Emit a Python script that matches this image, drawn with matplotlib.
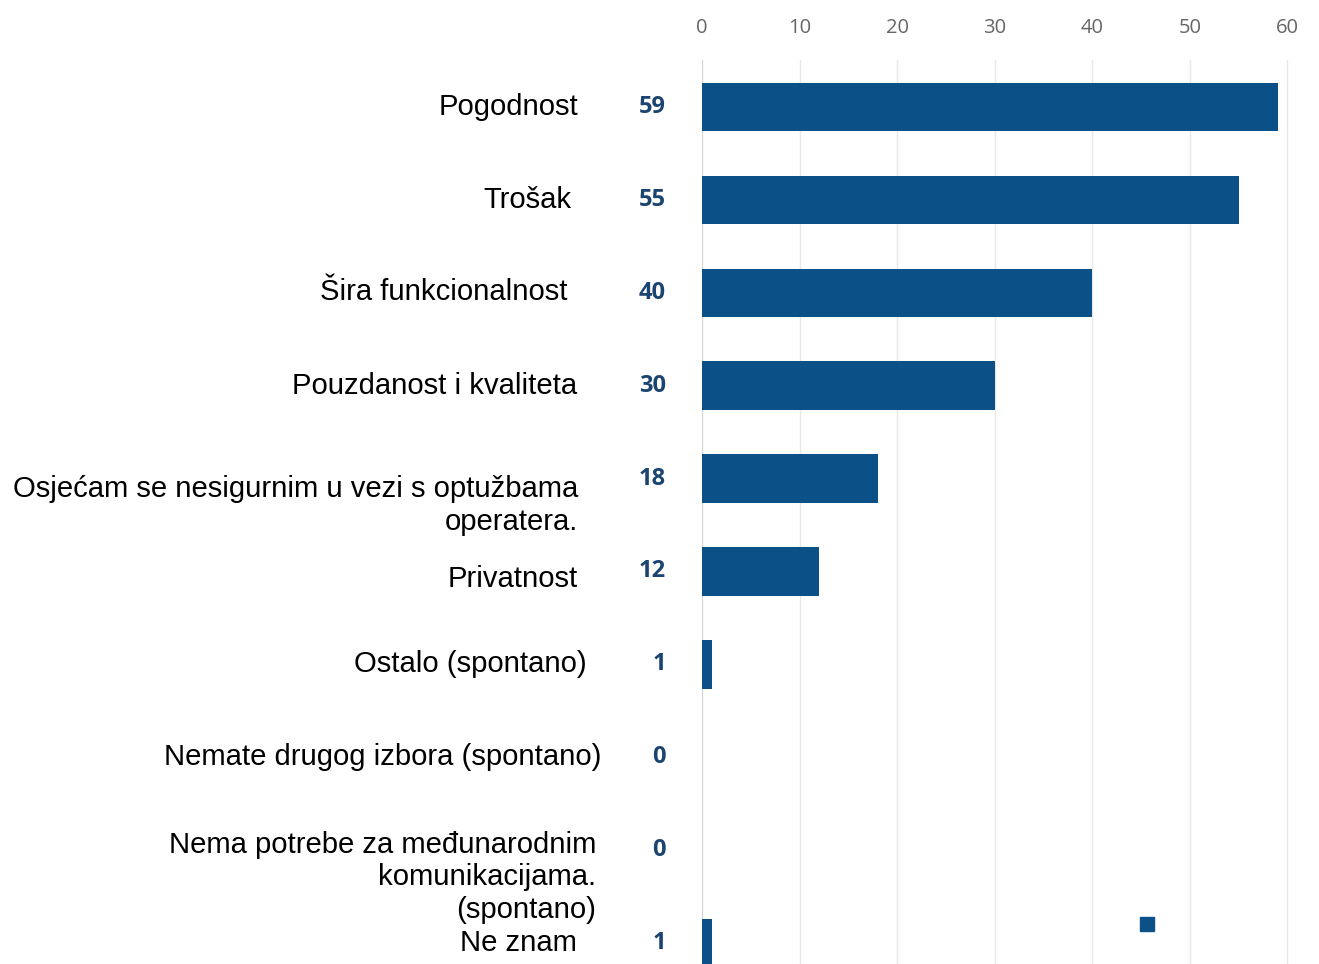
import matplotlib.pyplot as plt
from matplotlib.patches import Rectangle

categories = [
    "Pogodnost",
    "Trošak",
    "Šira funkcionalnost",
    "Pouzdanost i kvaliteta",
    "Osjećam se nesigurnim u vezi s optužbama\noperatera.",
    "Privatnost",
    "Ostalo (spontano)",
    "Nemate drugog izbora (spontano)",
    "Nema potrebe za međunarodnim\nkomunikacijama.\n(spontano)",
    "Ne znam",
]
values = [59, 55, 40, 30, 18, 12, 1, 0, 0, 1]
x_ticks = [0, 10, 20, 30, 40, 50, 60]

# label placement tweaks (pixels: right edge left of axis, downward shift)
label_dx = [-124, -131, -134, -125, -124, -124, -115, -101, -106, -125]
label_dy = [0, 0, -1, 0, 27, 8, 0, 0, 27, 0]

BAR = "#0b5187"
NAVY = "#1b4470"


def main():
    fig = plt.figure(figsize=(13.19, 9.64), dpi=100)
    ax = fig.add_axes([702 / 1319, 0.0, 598 / 1319, 1 - 60 / 964])

    pos = list(range(len(values)))
    ax.barh(pos, values, height=0.52, color=BAR, zorder=3)

    ax.set_xlim(0, 61.3)
    ax.set_ylim(9.225, -0.505)
    ax.xaxis.tick_top()
    ax.set_xticks(x_ticks)
    ax.set_xticklabels([str(t) for t in x_ticks], fontsize=14.5,
                       family="Open Sans", color="#666666")
    ax.tick_params(axis="x", length=0, pad=16)
    ax.set_yticks([])
    ax.grid(axis="x", color="#e8e8e8", linewidth=1, zorder=0)
    for s in ax.spines.values():
        s.set_visible(False)
    ax.axvline(0, color="#cfcfcf", linewidth=1.2, zorder=2)

    for i, (lab, v) in enumerate(zip(categories, values)):
        ax.annotate(lab, xy=(0, i), xytext=(label_dx[i] * 0.72, -label_dy[i] * 0.72),
                    textcoords="offset points", ha="right", va="center",
                    fontsize=21.1, family="Liberation Sans", color="black",
                    linespacing=1.2, annotation_clip=False)
        ax.annotate(str(v), xy=(0, i), xytext=(-36 * 0.72, 0),
                    textcoords="offset points", ha="right", va="center",
                    fontsize=17, family="Open Sans", fontweight="bold",
                    color=NAVY, annotation_clip=False)

    # small legend swatch
    ax.add_patch(Rectangle((0.732, 0.037), 14 / 598, 14 / 904, transform=ax.transAxes,
                           color=BAR, clip_on=False, zorder=4))

    fig.savefig("out.png", dpi=100)


if __name__ == "__main__":
    main()
